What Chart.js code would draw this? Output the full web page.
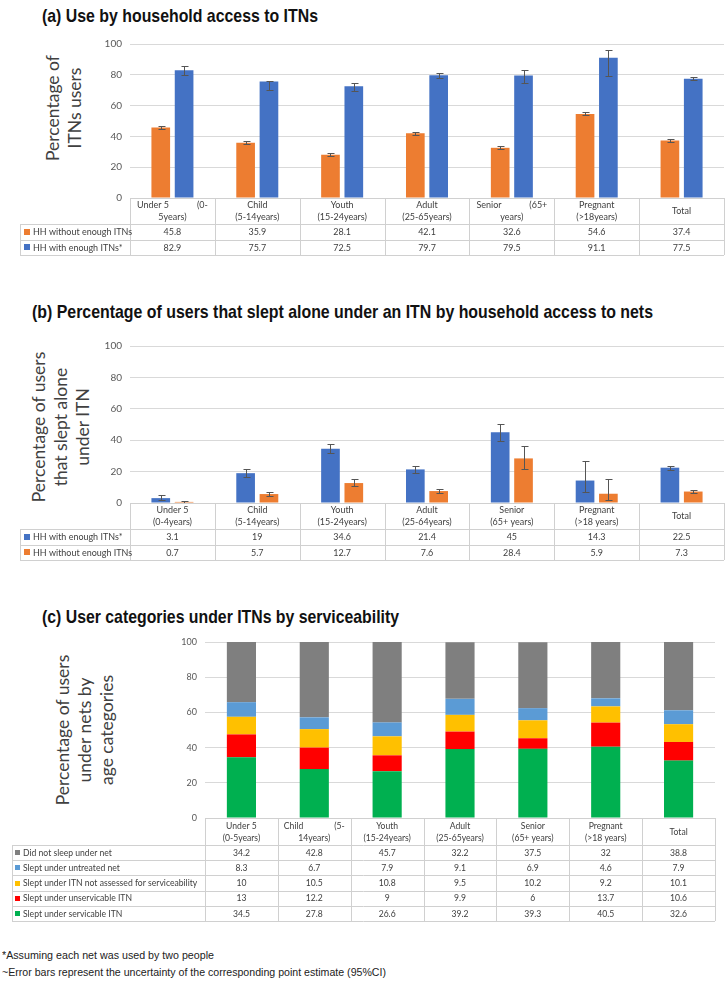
<!DOCTYPE html>
<html><head><meta charset="utf-8">
<script src="https://cdn.jsdelivr.net/npm/chart.js@4.4.0/dist/chart.umd.min.js"></script>
<style>
html,body{margin:0;padding:0;background:#fff;}
body{width:726px;height:991px;position:relative;overflow:hidden;font-family:"Liberation Sans",Arial,sans-serif;}
.title{position:absolute;font-weight:bold;font-size:19px;color:#111;white-space:nowrap;transform-origin:0 0;line-height:20px;}
.yt{position:absolute;transform:translate(-50%,-50%) rotate(-90deg);text-align:center;white-space:nowrap;line-height:22px;font-family:Lato,sans-serif;font-size:17.5px;color:#404040;}
.foot{position:absolute;left:2px;font-size:11.5px;color:#222;white-space:nowrap;transform-origin:0 0;line-height:13px;}
.cw{position:absolute;left:0;}
</style></head>
<body>
<div class="title" data-w="276" style="left:42px;top:6px;">(a) Use by household access to ITNs</div>
<div class="title" data-w="621" style="left:32px;top:302px;">(b) Percentage of users that slept alone under an ITN by household access to nets</div>
<div class="title" data-w="357" style="left:42px;top:607px;">(c) User categories under ITNs by serviceability</div>

<div class="yt" style="left:64px;top:108px;">Percentage of<br>ITNs users</div>
<div class="yt" style="left:61px;top:427px;">Percentage of users<br>that slept alone<br>under ITN</div>
<div class="yt" style="left:85px;top:730px;">Percentage of users<br>under nets by<br>age categories</div>

<div class="cw" style="top:30px;"><canvas id="ca" width="726" height="232"></canvas></div>
<div class="cw" style="top:330px;"><canvas id="cb" width="726" height="232"></canvas></div>
<div class="cw" style="top:625px;"><canvas id="cc" width="726" height="300"></canvas></div>

<div class="foot" data-w="212" style="top:949px;">*Assuming each net was used by two people</div>
<div class="foot" data-w="384" style="top:966px;">~Error bars represent the uncertainty of the corresponding point estimate (95%CI)</div>

<script>
// ---------- DATA ----------
const catsA = ["Under 5\t(0-\n5years)", "Child\n(5-14years)", "Youth\n(15-24years)", "Adult\n(25-65years)", "Senior\t(65+\nyears)", "Pregnant\n(>18years)", "Total"];
const aWithout   = [45.8, 35.9, 28.1, 42.1, 32.6, 54.6, 37.4];
const aWithoutLo = [44.6, 34.9, 27.2, 41.2, 31.6, 53.6, 36.5];
const aWithoutHi = [46.9, 36.9, 29.1, 43.0, 33.6, 55.6, 38.3];
const aWith      = [82.9, 75.7, 72.5, 79.7, 79.5, 91.1, 77.5];
const aWithLo    = [80.0, 70.0, 69.8, 77.6, 75.0, 79.5, 76.4];
const aWithHi    = [85.4, 76.0, 74.8, 81.2, 83.2, 96.0, 78.4];

const catsB = ["Under 5\n(0-4years)", "Child\n(5-14years)", "Youth\n(15-24years)", "Adult\n(25-64years)", "Senior\n(65+ years)", "Pregnant\n(>18 years)", "Total"];
const bWith      = [3.1, 19, 34.6, 21.4, 45, 14.3, 22.5];
const bWithLo    = [1.6, 16.7, 31.6, 19.4, 39.6, 6.8, 21.2];
const bWithHi    = [4.8, 21.5, 37.6, 23.4, 50.6, 26.6, 23.8];
const bWithout   = [0.7, 5.7, 12.7, 7.6, 28.4, 5.9, 7.3];
const bWithoutLo = [0.1, 4.6, 10.9, 6.2, 21.9, 1.9, 6.6];
const bWithoutHi = [1.5, 7.0, 15.5, 9.1, 36.1, 15.3, 8.0];

const catsC = ["Under 5\n(0-5years)", "Child\t(5-\n14years)", "Youth\n(15-24years)", "Adult\n(25-65years)", "Senior\n(65+ years)", "Pregnant\n(>18 years)", "Total"];
const cNoNet         = [34.2, 42.8, 45.7, 32.2, 37.5, 32, 38.8];
const cUntreated     = [8.3, 6.7, 7.9, 9.1, 6.9, 4.6, 7.9];
const cNotAssessed   = [10, 10.5, 10.8, 9.5, 10.2, 9.2, 10.1];
const cUnserviceable = [13, 12.2, 9, 9.9, 6, 13.7, 10.6];
const cServiceable   = [34.5, 27.8, 26.6, 39.2, 39.3, 40.5, 32.6];

const yTicks = [0, 20, 40, 60, 80, 100];

// ---------- COLORS ----------
const ORANGE = '#ED7D31', BLUE = '#4472C4';
const GRAY = '#7F7F7F', LBLUE = '#5B9BD5', YELLOW = '#FFC000', RED = '#FF0000', GREEN = '#00B050';

// ---------- fit titles ----------
document.querySelectorAll('[data-w]').forEach(el => {
  const w = el.getBoundingClientRect().width;
  el.style.transform = 'scaleX(' + (parseFloat(el.dataset.w) / w) + ')';
});

// ---------- plugins ----------
const errorBarPlugin = {
  id: 'errorBars',
  afterDatasetsDraw(chart) {
    const ctx = chart.ctx, y = chart.scales.y;
    chart.data.datasets.forEach((ds, di) => {
      if (!ds.errLo) return;
      const meta = chart.getDatasetMeta(di);
      ctx.save();
      ctx.strokeStyle = '#555';
      ctx.lineWidth = 1;
      meta.data.forEach((bar, i) => {
        const x = Math.round(bar.x) + 0.5;
        const y1 = Math.round(y.getPixelForValue(ds.errLo[i])) + 0.5;
        const y2 = Math.round(y.getPixelForValue(ds.errHi[i])) + 0.5;
        ctx.beginPath();
        ctx.moveTo(x, y1); ctx.lineTo(x, y2);
        ctx.moveTo(x - 3, y1); ctx.lineTo(x + 4, y1);
        ctx.moveTo(x - 3, y2); ctx.lineTo(x + 4, y2);
        ctx.stroke();
      });
      ctx.restore();
    });
  }
};

function txt(ctx, s, x, y, align, sx) {
  ctx.save();
  ctx.translate(x, y);
  ctx.scale(sx, 1);
  ctx.textAlign = align;
  ctx.fillText(s, 0, 0);
  ctx.restore();
}

const tablePlugin = {
  id: 'dataTable',
  afterDraw(chart, args, o) {
    if (!o || !o.rows) return;
    const ctx = chart.ctx, xs = chart.scales.x, ca = chart.chartArea;
    const n = chart.data.labels.length;
    const step = xs.getPixelForValue(1) - xs.getPixelForValue(0);
    const edge = i => xs.getPixelForValue(i) - step / 2;
    const top = ca.bottom, hH = o.headerH, rH = o.rowH, R = o.rows.length;
    const bottom = top + hH + rH * R;
    const px = v => Math.round(v) + 0.5;
    const sx = o.sx;
    ctx.save();
    ctx.strokeStyle = o.lineColor; ctx.lineWidth = 1;
    ctx.beginPath();
    ctx.moveTo(edge(0), px(top)); ctx.lineTo(edge(n), px(top));
    for (let r = 0; r <= R; r++) {
      const yy = px(top + hH + rH * r);
      ctx.moveTo(o.legendLeft, yy); ctx.lineTo(edge(n), yy);
    }
    for (let i = 0; i <= n; i++) {
      const xx = px(edge(i));
      ctx.moveTo(xx, top); ctx.lineTo(xx, bottom);
    }
    ctx.moveTo(px(o.legendLeft), top + hH); ctx.lineTo(px(o.legendLeft), bottom);
    ctx.stroke();
    ctx.fillStyle = o.textColor; ctx.font = o.font; ctx.textBaseline = 'middle';
    chart.data.labels.forEach((lab, i) => {
      const lines = lab.split('\n');
      const cx = xs.getPixelForValue(i), l = edge(i), r = edge(i + 1);
      const cy = top + hH / 2;
      lines.forEach((ln, k) => {
        const yy = cy + (k - (lines.length - 1) / 2) * o.lineH;
        if (ln.includes('\t')) {
          const [a, b] = ln.split('\t');
          txt(ctx, a, l + o.pad, yy, 'left', sx);
          txt(ctx, b, r - o.pad, yy, 'right', sx);
        } else {
          txt(ctx, ln, cx, yy, 'center', sx);
        }
      });
    });
    o.rows.forEach((row, r) => {
      const cy = top + hH + rH * r + rH / 2;
      ctx.fillStyle = row.color;
      ctx.fillRect(o.legendLeft + o.swX, Math.round(cy - o.sw / 2), o.sw, o.sw);
      ctx.fillStyle = o.textColor;
      txt(ctx, row.label, o.legendLeft + o.swX + o.sw + 3, cy, 'left', sx);
      row.data.forEach((v, i) => txt(ctx, String(v), xs.getPixelForValue(i), cy, 'center', sx));
    });
    ctx.restore();
  }
};

Chart.register(errorBarPlugin, tablePlugin);

function yScale(leftW, tickFont, stacked) {
  return {
    min: 0, max: 100, stacked: !!stacked,
    afterBuildTicks: s => { s.ticks = yTicks.map(v => ({ value: v })); },
    afterFit: s => { s.width = leftW; },
    border: { display: false },
    grid: { color: '#d9d9d9', drawTicks: false, lineWidth: 1 },
    ticks: { padding: 8, color: '#595959', font: tickFont }
  };
}

const baseOpts = (padding, leftW, tickFont, table, stacked) => ({
  responsive: false, animation: false, devicePixelRatio: 1,
  layout: { padding },
  plugins: { legend: { display: false }, tooltip: { enabled: false }, dataTable: table },
  scales: {
    x: { display: false, stacked: !!stacked },
    y: yScale(leftW, tickFont, stacked)
  }
});

// ---------- Chart (a) ----------
new Chart(document.getElementById('ca'), {
  type: 'bar',
  data: {
    labels: catsA,
    datasets: [
      { label: 'HH without enough ITNs', data: aWithout, backgroundColor: ORANGE, errLo: aWithoutLo, errHi: aWithoutHi, categoryPercentage: 0.55, barPercentage: 0.8 },
      { label: 'HH with enough ITNs*', data: aWith, backgroundColor: BLUE, errLo: aWithLo, errHi: aWithHi, categoryPercentage: 0.55, barPercentage: 0.8 }
    ]
  },
  options: baseOpts({ top: 12, bottom: 64, left: 0, right: 2 }, 130, { family: 'Lato', size: 10 }, {
    headerH: 26, rowH: 15.5, legendLeft: 20, swX: 4, sw: 6, pad: 7, lineH: 12, sx: 0.87,
    lineColor: '#d0d0d0', textColor: '#404040', font: '10.3px Lato',
    rows: [
      { label: 'HH without enough ITNs', color: ORANGE, data: aWithout },
      { label: 'HH with enough ITNs*', color: BLUE, data: aWith }
    ]
  })
});

// ---------- Chart (b) ----------
new Chart(document.getElementById('cb'), {
  type: 'bar',
  data: {
    labels: catsB,
    datasets: [
      { label: 'HH with enough ITNs*', data: bWith, backgroundColor: BLUE, errLo: bWithLo, errHi: bWithHi, categoryPercentage: 0.55, barPercentage: 0.8 },
      { label: 'HH without enough ITNs', data: bWithout, backgroundColor: ORANGE, errLo: bWithoutLo, errHi: bWithoutHi, categoryPercentage: 0.55, barPercentage: 0.8 }
    ]
  },
  options: baseOpts({ top: 16, bottom: 59, left: 0, right: 2 }, 130, { family: 'Lato', size: 10 }, {
    headerH: 26, rowH: 15.5, legendLeft: 20, swX: 4, sw: 6, pad: 7, lineH: 12, sx: 0.87,
    lineColor: '#d0d0d0', textColor: '#404040', font: '10.3px Lato',
    rows: [
      { label: 'HH with enough ITNs*', color: BLUE, data: bWith },
      { label: 'HH without enough ITNs', color: ORANGE, data: bWithout }
    ]
  })
});

// ---------- Chart (c) ----------
new Chart(document.getElementById('cc'), {
  type: 'bar',
  data: {
    labels: catsC,
    datasets: [
      { label: 'Slept under servicable ITN', data: cServiceable, backgroundColor: GREEN, categoryPercentage: 0.5, barPercentage: 0.8 },
      { label: 'Slept under unservicable ITN', data: cUnserviceable, backgroundColor: RED, categoryPercentage: 0.5, barPercentage: 0.8 },
      { label: 'Slept under ITN not assessed for serviceability', data: cNotAssessed, backgroundColor: YELLOW, categoryPercentage: 0.5, barPercentage: 0.8 },
      { label: 'Slept under untreated net', data: cUntreated, backgroundColor: LBLUE, categoryPercentage: 0.5, barPercentage: 0.8 },
      { label: 'Did not sleep under net', data: cNoNet, backgroundColor: GRAY, categoryPercentage: 0.5, barPercentage: 0.8 }
    ]
  },
  options: baseOpts({ top: 17, bottom: 107, left: 0, right: 11 }, 205, { family: 'Lato', size: 9 }, {
    headerH: 27, rowH: 15.2, legendLeft: 12, swX: 3, sw: 5, pad: 6, lineH: 12, sx: 0.86,
    lineColor: '#d0d0d0', textColor: '#404040', font: '10px Lato',
    rows: [
      { label: 'Did not sleep under net', color: GRAY, data: cNoNet },
      { label: 'Slept under untreated net', color: LBLUE, data: cUntreated },
      { label: 'Slept under ITN not assessed for serviceability', color: YELLOW, data: cNotAssessed },
      { label: 'Slept under unservicable ITN', color: RED, data: cUnserviceable },
      { label: 'Slept under servicable ITN', color: GREEN, data: cServiceable }
    ]
  }, true)
});
</script>
</body></html>
